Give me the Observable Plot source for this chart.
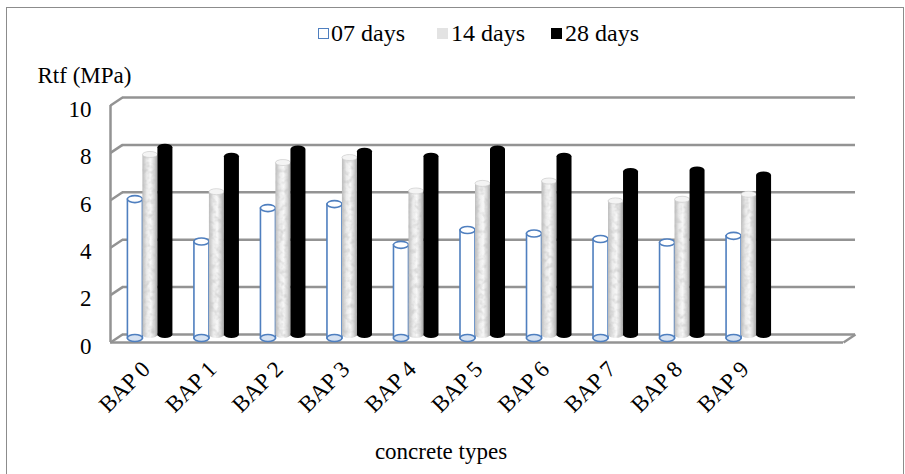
<!DOCTYPE html>
<html>
<head>
<meta charset="utf-8">
<script src="https://cdn.jsdelivr.net/npm/d3@7"></script>
<script src="https://cdn.jsdelivr.net/npm/@observablehq/plot@0.6"></script>
<style>
  body { margin: 0; background: #fff; font-family: "Liberation Serif", "Times New Roman", serif; }
  #wrap { position: relative; width: 905px; height: 474px; overflow: hidden; }
  #border { position: absolute; left: 6px; top: 7px; width: 898px; height: 500px; border: 1.5px solid #8c8c8c; box-sizing: border-box; }
  #chart { position: absolute; left: 0; top: 0; }
  .lg { position: absolute; font-size: 24px; line-height: 24px; top: 21px; color: #000; white-space: nowrap; }
  .sw { position: absolute; top: 28px; width: 11px; height: 11px; box-sizing: border-box; }
</style>
</head>
<body>
<div id="wrap">
  <div id="border"></div>
  <div id="chart"></div>
  <div id="legend"></div>
</div>
<script>
// ---- data ----
const categories = ["BAP 0", "BAP 1", "BAP 2", "BAP 3", "BAP 4", "BAP 5", "BAP 6", "BAP 7", "BAP 8", "BAP 9"];
const seriesNames = ["07 days", "14 days", "28 days"];
const days07 = [5.86, 4.07, 5.48, 5.65, 3.93, 4.56, 4.41, 4.18, 4.03, 4.31];
const days14 = [7.87, 6.30, 7.53, 7.74, 6.33, 6.65, 6.75, 5.91, 5.98, 6.19];
const days28 = [8.20, 7.82, 8.12, 8.03, 7.82, 8.12, 7.82, 7.17, 7.24, 7.03];
const yTicks = [0, 2, 4, 6, 8, 10];
const yLabel = "Rtf (MPa)";
const xLabel = "concrete types";

// ---- layout ----
const W = 905, H = 474;
const mL = 110, mR = 50, mT = 97, mB = 140;
const xDomain = [-0.6, 10.6];
const pxX = (W - mL - mR) / (xDomain[1] - xDomain[0]);
const pxY = (H - mT - mB) / 10;
const xBack = xDomain[0] + 12 / pxX;     // back-wall left edge
const xFrontR = xDomain[1] - 12 / pxX;  // floor front right
const DY = 8 / pxY;                     // 3D depth in y units
const hw = 7.5 / pxX;
const offs = [-15 / pxX, 0, 15 / pxX];
const idx = categories.map((_, i) => i);
const blue = "#4f7fbf";
const grid = "#939393";
const FS = 23;

function bodyOpts(k, vals, extra) {
  return Object.assign({
    x1: i => i + offs[k] - hw,
    x2: i => i + offs[k] + hw,
    y1: 0,
    y2: i => vals[i],
    dy: 4
  }, extra);
}
function capOpts(k, yv, extra) {
  return Object.assign({
    x1: i => i + offs[k] - hw,
    x2: i => i + offs[k] + hw,
    y1: yv, y2: yv,
    insetTop: -3.5, insetBottom: -3.5,
    rx: 7.5, ry: 3.5,
    dy: 4
  }, extra);
}

const plot = Plot.plot({
  width: W, height: H,
  marginLeft: mL, marginRight: mR, marginTop: mT, marginBottom: mB,
  x: { domain: xDomain, axis: null },
  y: { domain: [0, 10], axis: null },
  style: { fontFamily: "Liberation Serif, Times New Roman, serif", fontSize: FS + "px", background: "transparent", overflow: "visible", color: "#000" },
  marks: [
    // back wall gridlines
    Plot.ruleY(yTicks, { x1: xBack, x2: xDomain[1], stroke: grid, strokeWidth: 2.5 }),
    // side wall diagonals
    Plot.link(yTicks, { x1: xDomain[0], y1: d => d - DY, x2: xBack, y2: d => d, stroke: grid, strokeWidth: 2.5 }),
    // side wall front edge
    Plot.ruleX([xDomain[0]], { y1: -DY, y2: 10 - DY, stroke: grid, strokeWidth: 2.5 }),
    // floor front edge and right edge
    Plot.ruleY([-DY], { x1: xDomain[0], x2: xFrontR, stroke: grid, strokeWidth: 2.5 }),
    Plot.link([0], { x1: xFrontR, y1: -DY, x2: xDomain[1], y2: 0, stroke: grid, strokeWidth: 2.5 }),

    // 07 days: transparent blue-outlined cylinders
    Plot.rect(idx, bodyOpts(0, days07, { fill: "white", stroke: blue, strokeWidth: 1.6 })),
    Plot.rect(idx, capOpts(0, 0, { fill: "#d6e2f2", stroke: blue, strokeWidth: 1.6 })),
    Plot.rect(idx, capOpts(0, i => days07[i], { fill: "white", stroke: blue, strokeWidth: 1.6 })),

    // 14 days: silver cylinders
    Plot.rect(idx, bodyOpts(1, days14, { fill: "url(#silver)", rx: 7.5, ry: 3.5 })),
    Plot.rect(idx, capOpts(1, i => days14[i], { fill: "#f4f4f4", stroke: "#c8c8c8", strokeWidth: 0.6, insetTop: -3, insetBottom: -3, dy: 7 })),

    // 28 days: black cylinders
    Plot.rect(idx, bodyOpts(2, days28, { fill: "#000", rx: 7.5, ry: 3.5 })),

    // y tick labels
    Plot.text(yTicks, { x: xDomain[0], y: d => d, text: d => String(d), dx: -19, dy: 12, textAnchor: "end", lineAnchor: "middle", fontSize: FS }),
    // x category labels
    Plot.text(idx, { x: i => i + 1 / pxX, y: 0, text: i => categories[i], dy: 36, rotate: -45, textAnchor: "end", lineAnchor: "bottom", fontSize: FS }),
    // axis titles
    Plot.text([yLabel], { frameAnchor: "top-left", text: d => d, dx: -73, dy: -22, textAnchor: "start", lineAnchor: "middle", fontSize: FS }),
    Plot.text([xLabel], { frameAnchor: "bottom", text: d => d, dx: -42, dy: 117, lineAnchor: "middle", fontSize: FS })
  ]
});

d3.select(plot).insert("defs", ":first-child").html(`
  <linearGradient id="silver" x1="0" x2="1" y1="0" y2="0">
    <stop offset="0" stop-color="#bdbdbd"/>
    <stop offset="0.3" stop-color="#ebebeb"/>
    <stop offset="0.55" stop-color="#f8f8f8"/>
    <stop offset="0.8" stop-color="#d4d4d4"/>
    <stop offset="1" stop-color="#a3a3a3"/>
  </linearGradient>
  <filter id="mottle" x="0" y="0" width="1" height="1">
    <feTurbulence type="fractalNoise" baseFrequency="0.2" numOctaves="2" seed="5" result="noise"/>
    <feColorMatrix in="noise" type="matrix" values="0 0 0 0 0.5  0 0 0 0 0.5  0 0 0 0 0.5  1.3 0 0 0 -0.55" result="spots"/>
    <feComposite in="spots" in2="SourceGraphic" operator="in" result="clipped"/>
    <feMerge><feMergeNode in="SourceGraphic"/><feMergeNode in="clipped"/></feMerge>
  </filter>`);
d3.select(plot).selectAll('g[fill="url(#silver)"]').attr("filter", "url(#mottle)");
document.getElementById("chart").appendChild(plot);

// ---- legend ----
const legendItems = [
  { name: seriesNames[0], sw: 318, tx: 331, style: "background:#fff;border:1.5px solid " + blue },
  { name: seriesNames[1], sw: 437, tx: 451, style: "background:#e3e3e3" },
  { name: seriesNames[2], sw: 551, tx: 565, style: "background:#000" }
];
const lg = document.getElementById("legend");
for (const it of legendItems) {
  const s = document.createElement("div");
  s.className = "sw"; s.style.cssText = "left:" + it.sw + "px;" + it.style;
  lg.appendChild(s);
  const t = document.createElement("div");
  t.className = "lg"; t.style.left = it.tx + "px"; t.textContent = it.name;
  lg.appendChild(t);
}
</script>
</body>
</html>
